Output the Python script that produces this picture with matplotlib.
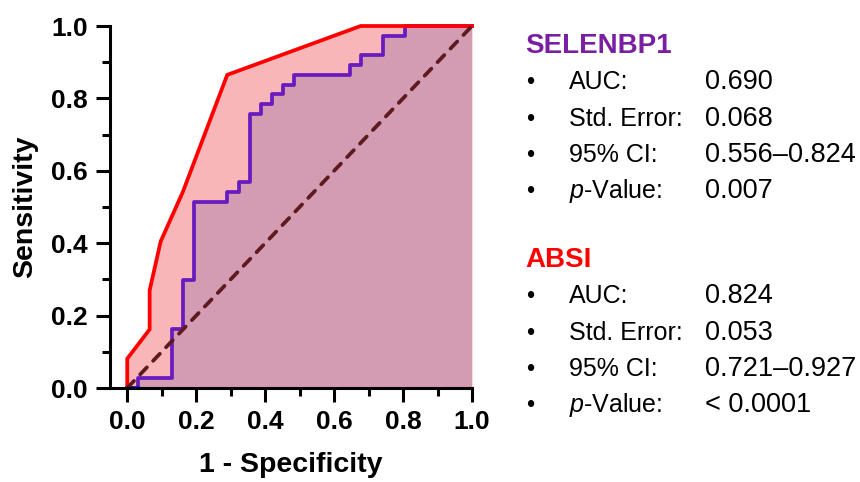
import matplotlib
matplotlib.use("Agg")
import matplotlib.pyplot as plt
from matplotlib.ticker import MultipleLocator

plt.rcParams['font.family'] = ['Liberation Sans', 'DejaVu Sans']
plt.rcParams['mathtext.fontset'] = 'custom'
plt.rcParams['mathtext.rm'] = 'Liberation Sans'
plt.rcParams['mathtext.it'] = 'Liberation Sans:italic'
plt.rcParams['mathtext.bf'] = 'Liberation Sans:bold'

# ---- data ----
# SELENBP1 ROC (step curve, steps-post)
sel_fpr = [0.0, 0.032, 0.129, 0.161, 0.194, 0.290, 0.323, 0.355, 0.387, 0.419,
           0.452, 0.484, 0.645, 0.677, 0.742, 0.806, 1.0]
sel_tpr = [0.0, 0.027, 0.162, 0.297, 0.514, 0.541, 0.568, 0.757, 0.784, 0.811,
           0.838, 0.865, 0.892, 0.919, 0.973, 1.0, 1.0]
# ABSI ROC (piecewise linear)
absi_fpr = [0.0, 0.0, 0.065, 0.065, 0.097, 0.161, 0.290, 0.677, 1.0]
absi_tpr = [0.0, 0.081, 0.162, 0.270, 0.405, 0.541, 0.865, 1.0, 1.0]

ref_x = [0.0, 1.0]
ref_y = [0.0, 1.0]

x_ticks = [0.0, 0.2, 0.4, 0.6, 0.8, 1.0]
y_ticks = [0.0, 0.2, 0.4, 0.6, 0.8, 1.0]

panels = [
    ("SELENBP1", "#7B1FA2",
     [("AUC:", "0.690"), ("Std. Error:", "0.068"),
      ("95% CI:", "0.556\u20130.824"), (r"$\mathit{p}$-Value:", "0.007")]),
    ("ABSI", "#FF0000",
     [("AUC:", "0.824"), ("Std. Error:", "0.053"),
      ("95% CI:", "0.721\u20130.927"), (r"$\mathit{p}$-Value:", "< 0.0001")]),
]

W, H = 860, 482
fig = plt.figure(figsize=(W / 100, H / 100), dpi=100)
ax = fig.add_axes([110 / W, 1 - 388 / H, 362 / W, 362 / H])

# fills
ax.fill_between(absi_fpr, absi_tpr, 0, color="#F9B6B8", lw=0, zorder=1)
ax.fill_between(sel_fpr, sel_tpr, 0, step="post", color="#D39CB2", lw=0, zorder=2)

# lines
ax.plot(absi_fpr, absi_tpr, color="#FF0000", lw=2.7, zorder=4, clip_on=False,
        solid_joinstyle="miter")
ax.plot(sel_fpr, sel_tpr, drawstyle="steps-post", color="#6A1BBF", lw=2.7,
        zorder=3, clip_on=False)
ax.plot(sel_fpr[:2], [sel_tpr[0], sel_tpr[0]], color="#1010FF", lw=2.7,
        zorder=5, clip_on=False)
ax.plot(ref_x, ref_y, color="#5E1A1E", lw=2.7, dashes=(2.6, 2.4),
        dash_capstyle="round", zorder=6, clip_on=False)

ax.set_xlim(-0.05, 1.0)
ax.set_ylim(0, 1.0)
for s in ["top", "right"]:
    ax.spines[s].set_visible(False)
for s in ["left", "bottom"]:
    ax.spines[s].set_linewidth(2.2)
    ax.spines[s].set_zorder(7)
ax.spines["bottom"].set_bounds(-0.05, 1.0)

ax.set_xticks(x_ticks)
ax.set_yticks(y_ticks)
ax.xaxis.set_minor_locator(MultipleLocator(0.1))
ax.yaxis.set_minor_locator(MultipleLocator(0.1))
ax.set_xticklabels([f"{v:.1f}" for v in x_ticks])
ax.set_yticklabels([f"{v:.1f}" for v in y_ticks])
ax.tick_params(which="major", length=10, width=2.2, direction="out",
               labelsize=19, pad=6)
ax.tick_params(which="minor", length=6, width=2.2, direction="out")
for lab in ax.get_xticklabels() + ax.get_yticklabels():
    lab.set_fontweight("bold")

ax.set_xlabel("1 - Specificity", fontsize=20.5, fontweight="bold", labelpad=13)
ax.set_ylabel("Sensitivity", fontsize=20.5, fontweight="bold", labelpad=9)

def fy(py):
    return 1 - py / H

title_base = [53, 267]
for (title, color, rows), tb in zip(panels, title_base):
    fig.text(525 / W, fy(tb), title, color=color, fontsize=20,
             fontweight="bold", va="baseline", ha="left")
    for i, (lab, val) in enumerate(rows):
        yb = tb + 36.3 * (i + 1)
        fig.text(530 / W, fy(yb), "\u2022", fontsize=17, va="baseline", ha="center")
        fig.text(569 / W, fy(yb), lab, fontsize=18, va="baseline", ha="left")
        fig.text(705 / W, fy(yb), val, fontsize=19.5, va="baseline", ha="left")

fig.savefig("out.png", dpi=100)
